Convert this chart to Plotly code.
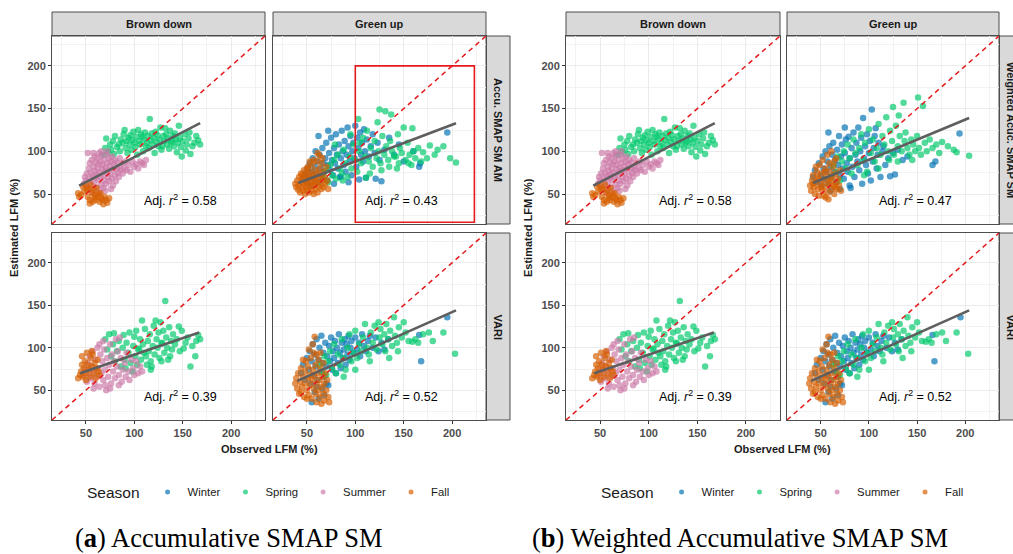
import plotly.graph_objects as go

W, H = 1013, 554

SEASONS = ["Winter", "Spring", "Summer", "Fall"]
SEASON_COLORS = {"Winter": "#0072B2", "Spring": "#00C96B", "Summer": "#CC79A7", "Fall": "#D55E00"}

AXIS_RANGE = [15, 235]
TICKS = [50, 100, 150, 200]
MINOR_TICKS = [25, 75, 125, 175, 225]

# ---------------- data: (observed LFM, estimated LFM) ----------------
# Brown down, Accumulative SMAP SM (also used for weighted version)
BD_SMAP_FALL = [(42, 51), (43, 47), (47, 59), (48, 53), (51, 55), (52, 47), (54, 43), (54, 39), (57, 41), (59, 49),
                (60, 43), (62, 47), (64, 41), (66, 45), (67, 43), (69, 47), (71, 43), (72, 40), (74, 45), (55, 61),
                (58, 55), (61, 57), (50, 60), (56, 52), (63, 50), (68, 38), (53, 56), (45, 49), (65, 51), (59, 46)]
BD_SMAP_SUMMER = [(48, 62), (49, 70), (50, 66), (51, 74), (52, 58), (52, 98), (53, 80), (54, 68), (54, 86), (55, 62),
                  (55, 75), (56, 90), (57, 71), (57, 52), (58, 82), (58, 64), (59, 94), (59, 77), (60, 69), (60, 87),
                  (61, 58), (61, 73), (62, 92), (62, 80), (63, 66), (63, 85), (64, 98), (64, 53), (64, 75), (65, 88),
                  (65, 70), (66, 61), (66, 95), (67, 79), (67, 84), (68, 72), (68, 57), (69, 90), (69, 66), (70, 81),
                  (70, 76), (71, 96), (71, 62), (72, 86), (72, 100), (73, 70), (73, 78), (74, 92), (74, 65), (75, 83),
                  (75, 74), (76, 88), (77, 68), (77, 94), (78, 79), (78, 60), (79, 85), (80, 72), (80, 90), (81, 65),
                  (82, 80), (82, 87), (83, 75), (84, 70), (85, 92), (85, 82), (86, 78), (88, 86), (88, 74), (90, 80),
                  (91, 88), (92, 78), (94, 84), (96, 76), (98, 88), (100, 82), (102, 85), (104, 80), (106, 88),
                  (108, 86), (110, 84), (112, 90), (76, 56), (70, 54), (58, 98), (66, 100)]
BD_SMAP_SPRING = [(68, 96), (70, 104), (71, 115), (73, 99), (75, 108), (76, 102), (78, 112), (79, 97), (80, 118),
                  (82, 105), (84, 108), (85, 100), (86, 114), (88, 110), (89, 120), (90, 125), (91, 104), (92, 112),
                  (93, 98), (94, 116), (95, 108), (96, 119), (97, 102), (98, 113), (99, 123), (100, 110), (101, 105),
                  (102, 117), (103, 96), (104, 125), (105, 112), (106, 108), (107, 120), (108, 117), (109, 100),
                  (110, 114), (111, 122), (112, 106), (113, 110), (114, 118), (115, 104), (116, 138), (117, 113),
                  (118, 121), (119, 108), (120, 116), (121, 98), (122, 123), (123, 111), (124, 119), (125, 106),
                  (126, 114), (127, 128), (128, 102), (129, 106), (130, 118), (131, 112), (132, 127), (133, 120),
                  (134, 108), (135, 115), (136, 103), (137, 124), (138, 110), (139, 112), (140, 118), (141, 106),
                  (142, 121), (143, 114), (144, 99), (145, 110), (146, 130), (147, 116), (148, 105), (149, 94),
                  (150, 112), (152, 120), (154, 108), (156, 115), (158, 97), (160, 106), (162, 110), (164, 118),
                  (166, 113), (168, 108), (153, 101), (157, 122)]

# Green up, Accumulative SMAP SM AM
GU_SMAP_FALL = [(38, 62), (39, 58), (40, 66), (41, 55), (42, 70), (42, 60), (43, 52), (44, 64), (44, 74), (45, 58),
                (46, 68), (46, 54), (47, 62), (47, 78), (48, 50), (48, 71), (49, 58), (49, 65), (50, 74), (50, 55),
                (51, 62), (51, 82), (52, 68), (52, 52), (53, 58), (53, 76), (54, 64), (54, 70), (55, 54), (55, 84),
                (56, 60), (56, 72), (57, 66), (57, 50), (58, 78), (58, 62), (59, 56), (59, 70), (60, 88), (60, 64),
                (61, 74), (61, 52), (62, 68), (62, 59), (63, 80), (63, 95), (64, 62), (64, 72), (65, 56), (65, 86),
                (66, 66), (67, 76), (67, 58), (68, 70), (69, 62), (70, 82), (71, 66), (72, 56), (45, 72), (50, 80),
                (57, 90), (61, 98), (66, 92), (53, 88)]
GU_SMAP_WINTER = [(46, 68), (48, 74), (50, 64), (51, 80), (52, 70), (53, 86), (54, 60), (55, 76), (56, 92), (57, 68),
                  (58, 82), (59, 100), (60, 74), (61, 88), (62, 64), (63, 96), (64, 80), (65, 70), (66, 104), (67, 86),
                  (68, 76), (69, 92), (70, 110), (71, 66), (72, 84), (73, 98), (74, 78), (75, 116), (76, 90), (77, 72),
                  (78, 104), (79, 86), (80, 120), (81, 96), (82, 80), (83, 108), (84, 70), (85, 92), (86, 124),
                  (87, 100), (88, 84), (89, 112), (90, 76), (91, 96), (92, 128), (93, 106), (94, 88), (95, 118),
                  (96, 72), (97, 100), (98, 110), (99, 92), (100, 130), (101, 82), (102, 116), (103, 104), (104, 67),
                  (105, 122), (106, 96), (107, 110), (108, 88), (109, 126), (110, 100), (111, 69), (112, 114),
                  (114, 94), (116, 106), (118, 120), (120, 98), (121, 68), (123, 110), (125, 90), (127, 65),
                  (130, 102), (135, 116), (140, 96), (145, 108), (150, 88), (160, 100), (166, 82), (167, 86),
                  (195, 122), (62, 118), (72, 124), (85, 70), (93, 64), (78, 62)]
GU_SMAP_SPRING = [(67, 70), (70, 78), (72, 64), (74, 84), (76, 72), (78, 90), (80, 68), (82, 96), (84, 80), (86, 74),
                  (88, 102), (90, 86), (92, 70), (94, 94), (96, 80), (98, 108), (100, 90), (102, 76), (103, 138),
                  (104, 100), (106, 86), (108, 116), (110, 94), (111, 69), (112, 124), (114, 88), (116, 104),
                  (118, 82), (120, 112), (122, 92), (123, 134), (124, 100), (125, 149), (126, 86), (128, 118),
                  (130, 96), (131, 147), (132, 106), (134, 90), (135, 82), (136, 112), (137, 143), (138, 100),
                  (140, 94), (142, 94), (144, 120), (145, 86), (146, 104), (148, 98), (150, 128), (152, 90),
                  (154, 110), (155, 86), (156, 96), (158, 84), (159, 127), (160, 100), (162, 92), (165, 104),
                  (168, 88), (170, 99), (174, 92), (177, 107), (182, 96), (185, 102), (191, 106), (198, 92),
                  (204, 87), (115, 74), (127, 78), (143, 80), (105, 110), (95, 120), (87, 66), (79, 108)]

# Green up, Weighted Accumulative SMAP SM
GU_WSMAP_FALL = [(39, 60), (40, 54), (41, 66), (42, 72), (43, 58), (44, 50), (45, 64), (46, 76), (47, 56), (48, 68),
                 (48, 48), (49, 84), (50, 62), (51, 74), (52, 54), (52, 90), (53, 66), (54, 58), (55, 80), (55, 46),
                 (56, 70), (57, 62), (57, 96), (58, 52), (59, 76), (59, 86), (60, 64), (61, 56), (61, 100), (62, 70),
                 (63, 60), (63, 82), (64, 50), (65, 74), (66, 64), (66, 92), (67, 56), (68, 68), (69, 60), (70, 78),
                 (71, 54), (45, 82), (53, 48), (58, 44), (64, 88), (42, 62), (47, 70), (50, 58), (54, 76), (60, 68),
                 (65, 58)]
GU_WSMAP_WINTER = [(42, 70), (44, 78), (46, 64), (48, 86), (50, 72), (51, 60), (52, 94), (53, 80), (54, 68),
                   (55, 100), (56, 76), (57, 88), (58, 62), (59, 106), (60, 82), (61, 70), (62, 96), (63, 110),
                   (64, 76), (65, 90), (66, 64), (67, 102), (68, 84), (69, 118), (70, 72), (71, 94), (72, 108),
                   (73, 80), (74, 68), (75, 98), (76, 114), (77, 86), (78, 76), (79, 117), (80, 92), (81, 57),
                   (82, 104), (83, 82), (84, 122), (85, 70), (86, 96), (87, 110), (88, 88), (89, 128), (90, 78),
                   (91, 100), (92, 116), (93, 62), (94, 139), (95, 92), (96, 106), (97, 84), (98, 120), (99, 74),
                   (100, 98), (101, 112), (102, 66), (103, 149), (104, 88), (105, 104), (106, 118), (107, 127),
                   (108, 80), (109, 96), (110, 110), (112, 70), (114, 100), (115, 106), (117, 84), (120, 92),
                   (122, 71), (125, 98), (127, 73), (130, 102), (135, 90), (140, 94), (166, 84), (169, 88),
                   (194, 121), (60, 54), (70, 56), (80, 60), (58, 122), (75, 128)]
GU_WSMAP_SPRING = [(60, 70), (63, 84), (66, 76), (68, 94), (70, 66), (72, 88), (74, 100), (76, 80), (78, 108),
                   (80, 92), (82, 74), (84, 114), (86, 98), (88, 84), (90, 104), (92, 120), (94, 90), (96, 110),
                   (98, 76), (100, 126), (102, 98), (104, 114), (106, 88), (108, 104), (110, 132), (112, 96),
                   (114, 118), (116, 108), (118, 140), (120, 100), (121, 90), (122, 124), (124, 112), (125, 152),
                   (126, 96), (128, 130), (130, 106), (131, 142), (132, 118), (134, 100), (136, 157), (137, 112),
                   (138, 122), (140, 104), (142, 96), (144, 114), (146, 108), (148, 100), (150, 118), (151, 163),
                   (152, 104), (154, 96), (156, 153), (158, 110), (160, 100), (163, 114), (166, 104), (170, 108),
                   (173, 98), (176, 111), (182, 106), (188, 102), (191, 99), (204, 95), (110, 80), (130, 88),
                   (145, 90), (95, 72)]

# Brown down, VARI
BD_VARI_FALL = [(42, 64), (44, 68), (45, 72), (46, 90), (47, 66), (48, 76), (49, 84), (50, 70), (51, 94), (52, 80),
                (53, 74), (54, 66), (55, 88), (56, 78), (57, 92), (58, 70), (59, 82), (60, 64), (61, 76), (62, 86),
                (63, 72), (64, 68), (50, 62), (56, 96), (46, 80)]
BD_VARI_SUMMER = [(48, 68), (50, 74), (51, 60), (52, 82), (53, 70), (54, 90), (55, 64), (56, 78), (57, 96), (58, 72),
                  (59, 58), (60, 86), (61, 66), (62, 100), (63, 76), (64, 54), (65, 92), (66, 70), (67, 84), (68, 62),
                  (69, 98), (70, 74), (71, 50), (72, 88), (73, 66), (74, 80), (75, 104), (76, 58), (77, 92), (78, 72),
                  (79, 84), (80, 64), (81, 110), (82, 78), (83, 96), (84, 68), (85, 112), (86, 88), (87, 60),
                  (88, 74), (90, 82), (91, 66), (92, 94), (94, 72), (95, 62), (97, 86), (99, 76), (100, 68), (102, 84),
                  (104, 70), (106, 78), (108, 72), (70, 56), (64, 104), (58, 52), (75, 52), (68, 108), (84, 56)]
BD_VARI_SPRING = [(70, 110), (72, 98), (74, 116), (76, 90), (78, 104), (79, 117), (80, 84), (82, 96), (84, 108),
                  (86, 78), (88, 100), (89, 115), (90, 86), (91, 76), (92, 106), (94, 94), (95, 118), (96, 82),
                  (98, 72), (99, 102), (100, 113), (101, 90), (102, 120), (103, 80), (104, 98), (105, 99), (106, 110),
                  (107, 86), (108, 132), (109, 104), (110, 94), (111, 122), (112, 90), (113, 80), (114, 108),
                  (115, 96), (116, 116), (117, 84), (118, 78), (119, 102), (120, 126), (121, 92), (122, 132),
                  (123, 110), (124, 100), (125, 118), (126, 88), (127, 130), (128, 106), (129, 105), (130, 120),
                  (131, 94), (132, 155), (133, 112), (134, 100), (135, 86), (136, 124), (137, 90), (138, 108),
                  (139, 98), (140, 116), (142, 104), (144, 110), (146, 125), (147, 96), (149, 120), (151, 99),
                  (153, 106), (155, 112), (158, 78), (160, 102), (163, 90), (164, 108), (166, 115), (168, 110),
                  (117, 74), (128, 84)]

# Green up, VARI
GU_VARI_FALL = [(38, 58), (39, 64), (40, 52), (41, 70), (42, 46), (43, 60), (44, 76), (45, 54), (46, 66), (47, 42),
                (48, 72), (48, 58), (49, 84), (50, 50), (51, 64), (51, 78), (52, 44), (53, 68), (53, 56), (54, 88),
                (55, 62), (55, 40), (56, 74), (57, 52), (57, 94), (58, 113), (58, 66), (59, 46), (59, 80), (60, 58),
                (60, 36), (61, 70), (62, 50), (62, 86), (63, 62), (63, 42), (64, 76), (65, 54), (65, 34), (66, 66),
                (67, 46), (67, 82), (68, 58), (68, 38), (69, 70), (70, 50), (71, 62), (72, 42), (73, 36), (52, 98),
                (56, 104), (60, 92), (46, 86), (44, 48), (50, 40), (64, 94)]
GU_VARI_WINTER = [(44, 70), (46, 80), (48, 62), (50, 88), (52, 74), (53, 96), (54, 58), (55, 84), (56, 104), (57, 68),
                  (58, 92), (59, 78), (60, 110), (61, 62), (62, 86), (63, 100), (64, 72), (65, 114), (66, 82),
                  (67, 94), (68, 66), (69, 106), (70, 78), (71, 90), (72, 56), (73, 102), (74, 84), (75, 112),
                  (76, 74), (77, 96), (78, 88), (79, 108), (80, 70), (81, 100), (82, 82), (83, 116), (84, 94),
                  (85, 76), (86, 106), (87, 88), (88, 98), (89, 110), (90, 80), (91, 104), (92, 92), (93, 114),
                  (94, 86), (95, 100), (96, 108), (98, 94), (100, 112), (102, 98), (104, 106), (105, 90), (107, 116),
                  (109, 102), (111, 96), (113, 108), (115, 114), (118, 100), (121, 112), (124, 96), (127, 106),
                  (130, 98), (134, 110), (168, 84), (166, 115), (195, 136), (58, 48), (62, 40), (66, 52), (70, 58),
                  (55, 36), (68, 44), (60, 54)]
GU_VARI_SPRING = [(63, 80), (66, 72), (68, 90), (70, 68), (72, 84), (74, 96), (76, 76), (78, 104), (80, 70), (82, 92),
                  (84, 80), (86, 110), (88, 88), (90, 74), (92, 100), (94, 116), (96, 84), (98, 94), (100, 120),
                  (102, 88), (104, 104), (106, 96), (108, 112), (110, 128), (112, 100), (114, 92), (116, 118),
                  (118, 106), (120, 126), (122, 98), (124, 130), (125, 112), (126, 122), (128, 104), (130, 116),
                  (131, 96), (132, 128), (134, 110), (136, 120), (138, 102), (140, 136), (141, 114), (143, 106),
                  (145, 124), (148, 112), (150, 130), (152, 118), (155, 108), (159, 107), (162, 110), (165, 106),
                  (170, 116), (176, 118), (180, 108), (191, 118), (203, 93), (144, 96), (135, 88), (115, 84),
                  (100, 74), (88, 66)]

# linear fits (start, end)
FIT_BD_SMAP = [(43, 60), (168, 133)]
FIT_GU_SMAP = [(41, 63), (204, 133)]
FIT_GU_WSMAP = [(42, 63), (204, 139)]
FIT_BD_VARI = [(44, 70), (167, 118)]
FIT_GU_VARI = [(40, 61), (204, 144)]

R2_PANEL_A = [0.58, 0.43, 0.39, 0.52]
R2_PANEL_B = [0.58, 0.47, 0.39, 0.52]
R2_LABEL_POS = (148, 43)

HIGHLIGHT_BOX = [100, 223, 17, 200]  # x0, x1, y0, y1 in panel (a) Green up

COL_LABELS = ["Brown down", "Green up"]
ROW_LABELS_A = ["Accu. SMAP SM AM", "VARI"]
ROW_LABELS_B = ["Weighted Acuc. SMAP SM", "VARI"]

# ---------------- layout geometry (pixels) ----------------
COLS_A = [(52, 265), (273, 486)]
COLS_B = [(566, 780), (787, 999)]
ROWS = [(36, 224), (233, 420)]
STRIP_H = 24
STRIP_W = 24

def px(x):
    return x / W

def py(y):
    return 1 - y / H

FONT = "Liberation Sans, Arial, sans-serif"

facets = [
    ("a", 0, 0, {"Spring": BD_SMAP_SPRING, "Summer": BD_SMAP_SUMMER, "Fall": BD_SMAP_FALL}, FIT_BD_SMAP, R2_PANEL_A[0]),
    ("a", 0, 1, {"Winter": GU_SMAP_WINTER, "Spring": GU_SMAP_SPRING, "Fall": GU_SMAP_FALL}, FIT_GU_SMAP, R2_PANEL_A[1]),
    ("a", 1, 0, {"Spring": BD_VARI_SPRING, "Summer": BD_VARI_SUMMER, "Fall": BD_VARI_FALL}, FIT_BD_VARI, R2_PANEL_A[2]),
    ("a", 1, 1, {"Winter": GU_VARI_WINTER, "Spring": GU_VARI_SPRING, "Fall": GU_VARI_FALL}, FIT_GU_VARI, R2_PANEL_A[3]),
    ("b", 0, 0, {"Spring": BD_SMAP_SPRING, "Summer": BD_SMAP_SUMMER, "Fall": BD_SMAP_FALL}, FIT_BD_SMAP, R2_PANEL_B[0]),
    ("b", 0, 1, {"Winter": GU_WSMAP_WINTER, "Spring": GU_WSMAP_SPRING, "Fall": GU_WSMAP_FALL}, FIT_GU_WSMAP, R2_PANEL_B[1]),
    ("b", 1, 0, {"Spring": BD_VARI_SPRING, "Summer": BD_VARI_SUMMER, "Fall": BD_VARI_FALL}, FIT_BD_VARI, R2_PANEL_B[2]),
    ("b", 1, 1, {"Winter": GU_VARI_WINTER, "Spring": GU_VARI_SPRING, "Fall": GU_VARI_FALL}, FIT_GU_VARI, R2_PANEL_B[3]),
]

fig = go.Figure()
layout = dict(
    width=W, height=H, margin=dict(l=0, r=0, t=0, b=0),
    paper_bgcolor="white", plot_bgcolor="white",
    font=dict(family=FONT, color="#1a1a1a"),
    showlegend=True,
)
annotations = []
shapes = []


def note(x, y, text, size, xref="paper", yref="paper", angle=0, family=FONT, color="#1A1A1A"):
    annotations.append(dict(x=x, y=y, xref=xref, yref=yref, text=text, showarrow=False,
                            xanchor="center", yanchor="middle", textangle=angle,
                            font=dict(family=family, size=size, color=color)))


for i, (panel, r, c, data, fit, r2) in enumerate(facets, start=1):
    cols = COLS_A if panel == "a" else COLS_B
    x0, x1 = cols[c]
    y0, y1 = ROWS[r]
    xa = "x" if i == 1 else f"x{i}"
    ya = "y" if i == 1 else f"y{i}"
    show_x = r == 1
    show_y = c == 0
    common = dict(
        range=AXIS_RANGE, tickvals=TICKS, showgrid=True, gridcolor="#EBEBEB", gridwidth=1,
        minor=dict(tickvals=MINOR_TICKS, showgrid=True, gridcolor="#F2F2F2", gridwidth=1, ticks=""),
        zeroline=False, showline=True, mirror=True, linecolor="#4D4D4D", linewidth=1,
        tickfont=dict(family=FONT, size=11, color="#4D4D4D", weight="bold"),
        ticklen=3, tickcolor="#333333", tickwidth=1,
    )
    layout["xaxis" if i == 1 else f"xaxis{i}"] = dict(
        common, domain=[px(x0), px(x1)], anchor=ya,
        showticklabels=show_x, ticks="outside" if show_x else "")
    layout["yaxis" if i == 1 else f"yaxis{i}"] = dict(
        common, domain=[py(y1), py(y0)], anchor=xa,
        showticklabels=show_y, ticks="outside" if show_y else "")

    for s in SEASONS:
        if s not in data:
            continue
        pts = data[s]
        fig.add_trace(go.Scatter(
            x=[p[0] for p in pts], y=[p[1] for p in pts], mode="markers",
            marker=dict(size=6.5, color=SEASON_COLORS[s], opacity=0.68, line=dict(width=0)),
            xaxis=xa, yaxis=ya, showlegend=False, hoverinfo="skip"))
    fig.add_trace(go.Scatter(x=AXIS_RANGE, y=AXIS_RANGE, mode="lines",
                             line=dict(color="#E41A1C", width=1.5, dash="5px,4px"),
                             xaxis=xa, yaxis=ya, showlegend=False, hoverinfo="skip"))
    fig.add_trace(go.Scatter(x=[p[0] for p in fit], y=[p[1] for p in fit], mode="lines",
                             line=dict(color="#5E5E5E", width=2.6),
                             xaxis=xa, yaxis=ya, showlegend=False, hoverinfo="skip"))
    note(R2_LABEL_POS[0], R2_LABEL_POS[1], f"Adj. <i>r</i><sup>2</sup> = {r2:.2f}", 12.5,
         xref=xa, yref=ya, color="black")
    if panel == "a" and r == 0 and c == 1:
        shapes.append(dict(type="rect", xref=xa, yref=ya,
                           x0=HIGHLIGHT_BOX[0], x1=HIGHLIGHT_BOX[1], y0=HIGHLIGHT_BOX[2], y1=HIGHLIGHT_BOX[3],
                           line=dict(color="#E41A1C", width=1.6), fillcolor="rgba(0,0,0,0)"))

for panel, cols, row_labels in (("a", COLS_A, ROW_LABELS_A), ("b", COLS_B, ROW_LABELS_B)):
    for c, (x0, x1) in enumerate(cols):
        shapes.append(dict(type="rect", xref="paper", yref="paper",
                           x0=px(x0), x1=px(x1), y0=py(ROWS[0][0]), y1=py(ROWS[0][0] - STRIP_H),
                           fillcolor="#D9D9D9", line=dict(color="#4D4D4D", width=1), layer="below"))
        note(px((x0 + x1) / 2), py(ROWS[0][0] - STRIP_H / 2), f"<b>{COL_LABELS[c]}</b>", 11)
    xr = cols[1][1]
    for r, (y0, y1) in enumerate(ROWS):
        shapes.append(dict(type="rect", xref="paper", yref="paper",
                           x0=px(xr), x1=px(xr + STRIP_W), y0=py(y1), y1=py(y0),
                           fillcolor="#D9D9D9", line=dict(color="#4D4D4D", width=1), layer="below"))
        note(px(xr + STRIP_W / 2), py((y0 + y1) / 2), f"<b>{row_labels[r]}</b>", 11, angle=90)
    left = cols[0][0]
    right = cols[1][1]
    note(px((left + right) / 2), py(449), "<b>Observed LFM (%)</b>", 11)
    note(px(left - 38), py((ROWS[0][0] + ROWS[1][1]) / 2), "<b>Estimated LFM (%)</b>", 11, angle=-90)

note(px(228), py(538), "(<b>a</b>) Accumulative SMAP SM", 26.5, family="Liberation Serif, serif", color="black")
note(px(740), py(538), "(<b>b</b>) Weighted Accumulative SMAP SM", 26.5, family="Liberation Serif, serif",
     color="black")

for leg in ("legend", "legend2"):
    for s in SEASONS:
        fig.add_trace(go.Scatter(x=[None], y=[None], mode="markers", name=s, legend=leg,
                                 marker=dict(size=5, color=SEASON_COLORS[s], opacity=0.68),
                                 showlegend=True))

legend_common = dict(orientation="h", xanchor="left", yanchor="middle", y=py(493),
                     bgcolor="rgba(0,0,0,0)", borderwidth=0,
                     title=dict(text="Season", side="left", font=dict(family=FONT, size=15.5, color="#1A1A1A")),
                     font=dict(family=FONT, size=11.3, color="#1A1A1A"), itemclick=False, itemdoubleclick=False)
layout["legend"] = dict(legend_common, x=px(85))
layout["legend2"] = dict(legend_common, x=px(599))

layout["annotations"] = annotations
layout["shapes"] = shapes
fig.update_layout(**layout)

fig.write_html("out.html")
